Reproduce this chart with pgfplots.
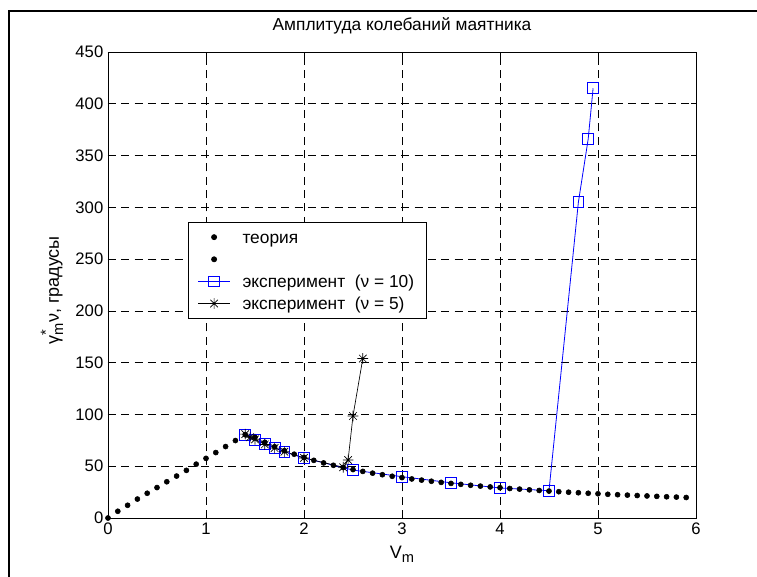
\documentclass[border=0pt]{standalone}
\usepackage{pgfplots}
\pgfplotsset{compat=1.18}
\usepackage{fontspec}
\setmainfont{Liberation Sans}
\pgfdeclareplotmark{mstar}{%
  \pgfpathmoveto{\pgfqpoint{-\pgfplotmarksize}{0pt}}\pgfpathlineto{\pgfqpoint{\pgfplotmarksize}{0pt}}%
  \pgfpathmoveto{\pgfqpoint{0pt}{-\pgfplotmarksize}}\pgfpathlineto{\pgfqpoint{0pt}{\pgfplotmarksize}}%
  \pgfpathmoveto{\pgfqpoint{-0.707\pgfplotmarksize}{-0.707\pgfplotmarksize}}\pgfpathlineto{\pgfqpoint{0.707\pgfplotmarksize}{0.707\pgfplotmarksize}}%
  \pgfpathmoveto{\pgfqpoint{-0.707\pgfplotmarksize}{0.707\pgfplotmarksize}}\pgfpathlineto{\pgfqpoint{0.707\pgfplotmarksize}{-0.707\pgfplotmarksize}}%
  \pgfusepathqstroke}
\newcommand{\smallsub}[1]{\raisebox{-0.45ex}{\fontsize{11}{12}\selectfont #1}}
\newcommand{\smallsup}[1]{\raisebox{0.85ex}{\fontsize{11}{12}\selectfont #1}}
\begin{document}
\begin{tikzpicture}
\useasboundingbox (-81pt,-43.5pt) rectangle (486.75pt,388.5pt);
\draw[line width=1.5pt] (-74.25pt,-50pt) -- (-74.25pt,380.25pt) -- (495pt,380.25pt);
\begin{axis}[
  at={(0,0)}, anchor=south west,
  scale only axis, width=441pt, height=349.5pt,
  xmin=0, xmax=6, ymin=0, ymax=450,
  xtick={0,1,2,3,4,5,6}, ytick={0,50,...,450},
  tick align=inside, xtick pos=both, ytick pos=both,
  major tick length=4pt,
  axis line style={line width=0.6pt},
  every tick/.style={black, line width=0.5pt},
  grid=major,
  major grid style={black, line width=0.5pt, dash pattern=on 6pt off 4pt},
  font=\fontsize{12.5}{14}\selectfont,
  /pgf/number format/assume math mode=true,
  tick label style={font=\fontsize{12.5}{14}\selectfont},
  title={Амплитуда колебаний маятника},
  title style={at={(axis description cs:0.5,1.0386)}, anchor=center, font=\fontsize{13}{15}\selectfont},
  xlabel={V\smallsub{m}},
  xlabel style={at={(axis description cs:0.5,-0.078)}, anchor=center, font=\fontsize{13.5}{15}\selectfont},
  ylabel={γ\rlap{\smallsup{*}}\smallsub{m}ν,\ градусы},
  ylabel style={at={(axis description cs:-0.0952,0.489)}, anchor=center, font=\fontsize{13.5}{15}\selectfont},
  legend cell align=left,
  legend style={at={(axis description cs:0.136,0.635)}, anchor=north west, draw=black, line width=0.6pt, fill=white,
    font=\fontsize{13}{15}\selectfont, row sep=0.6pt, inner xsep=7pt, inner ysep=3pt,
    /tikz/every odd column/.append style={column sep=7pt}},
  legend image code/.code={%
    \draw[mark repeat=2,mark phase=2] plot coordinates {(0pt,0pt) (12pt,0pt) (24pt,0pt)};},
]
\addplot[only marks, mark=*, mark size=1.9pt, black] coordinates {
(0.0,0) (0.1,6.5) (0.2,12.3) (0.3,18.3) (0.4,23.9) (0.5,29.4) (0.6,35) (0.7,40.5) (0.8,46) (0.9,52)
(1.0,57.6) (1.1,63.2) (1.2,69) (1.3,74.8) (1.4,80.5) (1.5,78) (1.6,73.1) (1.7,68.8) (1.8,65) (1.9,61.6)
(2.0,58.5) (2.1,55.7) (2.2,53.2) (2.3,50.9) (2.4,48.8) (2.5,46.8) (2.6,45) (2.7,43.3) (2.8,41.8) (2.9,40.3)
(3.0,39) (3.1,37.7) (3.2,36.6) (3.3,35.5) (3.4,34.4) (3.5,33.4) (3.6,32.5) (3.7,31.6) (3.8,30.8) (3.9,30)
(4.0,29.3) (4.1,28.5) (4.2,27.9) (4.3,27.2) (4.4,26.6) (4.5,26) (4.6,25.4) (4.7,24.9) (4.8,24.4) (4.9,23.9)
(5.0,23.4) (5.1,22.9) (5.2,22.5) (5.3,22.1) (5.4,21.7) (5.5,21.3) (5.6,20.9) (5.7,20.5) (5.8,20.2) (5.9,19.8)
};
\addlegendentry{\strut теория}
\addlegendimage{only marks, mark=*, mark size=1.9pt, black}
\addlegendentry{\strut}
\addplot[blue, line width=0.6pt, mark=square, mark size=4.1pt, mark options={solid, line width=0.6pt}] coordinates {
(1.4,80.5) (1.5,75.5) (1.6,72) (1.7,68) (1.8,64) (2.0,58) (2.5,46.3) (3.0,39.9) (3.5,34) (4.0,29) (4.5,26.4)
(4.8,305) (4.9,366) (4.95,415)
};
\addlegendentry{\strut эксперимент\ \ (ν = 10)}
\addplot[black, line width=0.5pt, mark=mstar, mark size=4pt, mark options={solid, line width=0.5pt}] coordinates {
(1.4,81) (1.45,78) (1.5,76) (1.6,71) (1.7,67.5) (1.8,64) (2.0,58) (2.4,49) (2.45,56) (2.5,98.5) (2.6,154)
};
\addlegendentry{\strut эксперимент\ \ (ν = 5)}
\end{axis}
\end{tikzpicture}
\end{document}
